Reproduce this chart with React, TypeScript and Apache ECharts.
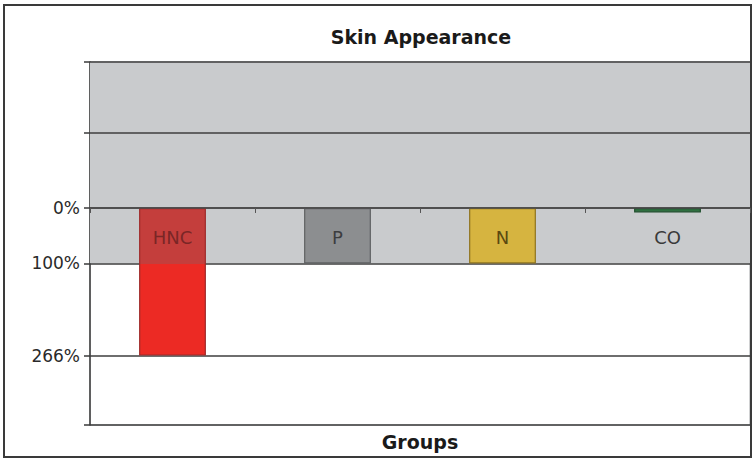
import React, { useEffect, useRef } from "react";
import * as echarts from "echarts";

const categories = ["HNC", "P", "N", "CO"];
const values = [266, 100, 100, 8];
const barColors = ["#ec2a24", "#8c8e90", "#d6b440", "#2f7040"];
const barBorders = ["#9e2a2a", "#5f6163", "#8f7420", "#1f4f2c"];
const labelColors = ["#7a2626", "#3c3d3f", "#5a4810", "#3a3a3a"];
const labeledTicks = [0, 100, 266];
const gridLineValues = [-135, 0, 100, 266];
const axisMin = -263;
const axisMax = 391;
const bandTop = axisMin;
const bandBottom = 100;

const FONT = "DejaVu Sans";

export default function App() {
  const ref = useRef<HTMLDivElement>(null);
  useEffect(() => {
    document.body.style.margin = "0";
    const chart = echarts.init(ref.current!, null, { renderer: "svg" });
    const hncSplit = bandBottom / values[0];
    const data = values.map((v, i) => ({
      value: v,
      itemStyle: {
        color:
          i === 0
            ? new echarts.graphic.LinearGradient(0, 0, 0, 1, [
                { offset: 0, color: "#c43e3c" },
                { offset: hncSplit, color: "#c43e3c" },
                { offset: hncSplit, color: barColors[0] },
                { offset: 1, color: barColors[0] },
              ])
            : barColors[i],
        borderColor: barBorders[i],
        borderWidth: 1.2,
      },
      label: { color: labelColors[i] },
    }));
    chart.setOption({
      animation: false,
      backgroundColor: "#ffffff",
      graphic: [
        {
          type: "rect",
          shape: { x: 4, y: 5, width: 747, height: 452 },
          style: { fill: "none", stroke: "#3a3a3a", lineWidth: 2 },
          z: 0,
        },
        {
          type: "text",
          x: 421,
          y: 37,
          style: {
            text: "Skin Appearance",
            textAlign: "center",
            textVerticalAlign: "middle",
            font: `bold 19px "${FONT}"`,
            fill: "#1a1a1a",
          },
        },
        {
          type: "text",
          x: 420,
          y: 442,
          style: {
            text: "Groups",
            textAlign: "center",
            textVerticalAlign: "middle",
            font: `bold 19px "${FONT}"`,
            fill: "#1a1a1a",
          },
        },
      ],
      grid: {
        left: 90,
        right: 5,
        top: 62,
        bottom: 39,
        show: true,
        borderColor: "#a0a2a4",
        borderWidth: 1,
        backgroundColor: "transparent",
      },
      xAxis: {
        type: "category",
        data: categories,
        z: 10,
        axisLine: { onZero: true, lineStyle: { color: "#4a4a4a", width: 1.5 } },
        axisTick: { show: true, alignWithLabel: false, length: 5, lineStyle: { color: "#555" } },
        axisLabel: { show: false },
        splitLine: { show: false },
      },
      yAxis: {
        type: "value",
        inverse: true,
        min: axisMin,
        max: axisMax,
        axisLine: { show: true, lineStyle: { color: "#3a3a3a", width: 1.5 } },
        axisTick: {
          show: true,
          length: 6,
          customValues: [axisMin, ...gridLineValues, axisMax],
          lineStyle: { color: "#3a3a3a", width: 1.5 },
        },
        axisLabel: {
          customValues: labeledTicks,
          formatter: (v: number) => `${v}%`,
          fontFamily: FONT,
          fontSize: 17,
          color: "#2a2a2a",
          margin: 10,
        },
        splitLine: { show: false },
      },
      series: [
        {
          type: "bar",
          data: [],
          silent: true,
          markArea: {
            silent: true,
            z: 1,
            itemStyle: { color: "#c9cbcd" },
            data: [[{ yAxis: bandTop }, { yAxis: bandBottom }]],
          },
        },
        {
          type: "bar",
          data: [],
          silent: true,
          markLine: {
            silent: true,
            z: 1,
            symbol: "none",
            label: { show: false },
            lineStyle: { color: "#3e3e3e", width: 1.5, type: "solid" },
            data: [
              { yAxis: axisMin },
              ...gridLineValues.map((v) => ({ yAxis: v })),
              { yAxis: axisMax },
            ],
          },
        },
        {
          type: "bar",
          z: 3,
          barWidth: "40.5%",
          barGap: "-100%",
          label: {
            show: true,
            position: "insideTop",
            distance: 21,
            formatter: "{b}",
            fontFamily: FONT,
            fontSize: 18,
          },
          data,
        },
      ],
    });
    return () => chart.dispose();
  }, []);
  return <div ref={ref} style={{ width: 755, height: 464 }} />;
}
